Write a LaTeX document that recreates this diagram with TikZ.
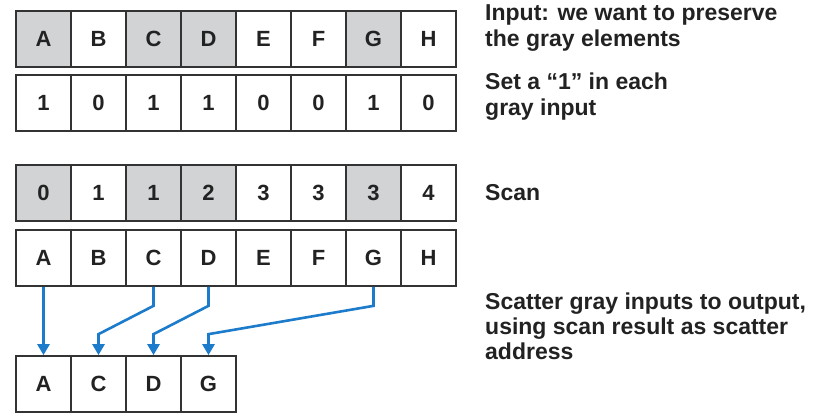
\documentclass[tikz,border=0pt]{standalone}
\usepackage{fontspec}
\setmainfont{Liberation Sans}
\usetikzlibrary{arrows.meta,calc}
\definecolor{cellgray}{HTML}{D2D3D5}
\definecolor{edge}{HTML}{333333}
\definecolor{arrowblue}{HTML}{1C7BCB}
\definecolor{txt}{HTML}{222222}
\tikzset{
  cell/.style={draw=edge, line width=2.2pt, minimum width=55pt, minimum height=55.5pt,
    inner sep=0pt, font=\fontsize{22}{22}\selectfont\bfseries, text=txt},
  graycell/.style={cell, fill=cellgray},
  label/.style={anchor=base west, inner sep=0pt, font=\fontsize{23}{26}\selectfont\bfseries, text=txt},
  scat/.style={draw=arrowblue, line width=2.6pt, -{Triangle[width=12pt,length=11pt]}},
}
\begin{document}
\begin{tikzpicture}[x=1pt,y=-1pt]
\useasboundingbox (0,0) rectangle (821,417);
% row 1: input
\foreach \t [count=\i] in {A,B,C,D,E,F,G,H} {
  \ifnum\i=1 \def\st{graycell}\else\ifnum\i=3 \def\st{graycell}\else\ifnum\i=4 \def\st{graycell}\else\ifnum\i=7 \def\st{graycell}\else\def\st{cell}\fi\fi\fi\fi
  \node[\st] (in\i) at ({16+55*(\i-0.5)},39) {\t};
}
% row 2: flags
\foreach \t [count=\i] in {1,0,1,1,0,0,1,0} {
  \node[cell] (bit\i) at ({16+55*(\i-0.5)},103) {\t};
}
% row 3: scan
\foreach \t [count=\i] in {0,1,1,2,3,3,3,4} {
  \ifnum\i=1 \def\st{graycell}\else\ifnum\i=3 \def\st{graycell}\else\ifnum\i=4 \def\st{graycell}\else\ifnum\i=7 \def\st{graycell}\else\def\st{cell}\fi\fi\fi\fi
  \node[\st] (scan\i) at ({16+55*(\i-0.5)},193) {\t};
}
% row 4: source
\foreach \t [count=\i] in {A,B,C,D,E,F,G,H} {
  \node[cell] (src\i) at ({16+55*(\i-0.5)},258) {\t};
}
% row 5: output
\foreach \t [count=\i] in {A,C,D,G} {
  \node[cell] (out\i) at ({16+55*(\i-0.5)},384) {\t};
}
% scatter arrows
\draw[scat] (src1.south) -- (out1.north);
\draw[scat] (src3.south) -- ++(0,19) -- ($(out2.north)+(0,-21)$) -- (out2.north);
\draw[scat] (src4.south) -- ++(0,19) -- ($(out3.north)+(0,-21)$) -- (out3.north);
\draw[scat] (src7.south) -- ++(0,19) -- ($(out4.north)+(0,-21)$) -- (out4.north);
% labels
\node[label] (l1) at (485,21) {Input: we want to preserve};
\node[label] (l2) at (485,47) {the gray elements};
\node[label] (l3) at (485,90) {Set a “1” in each};
\node[label] (l4) at (485,116) {gray input};
\node[label] (l5) at (485,200) {Scan};
\node[label] (l6) at (485,309) {Scatter gray inputs to output,};
\node[label] (l7) at (485,334) {using scan result as scatter};
\node[label] (l8) at (485,359) {address};
\end{tikzpicture}
\end{document}
